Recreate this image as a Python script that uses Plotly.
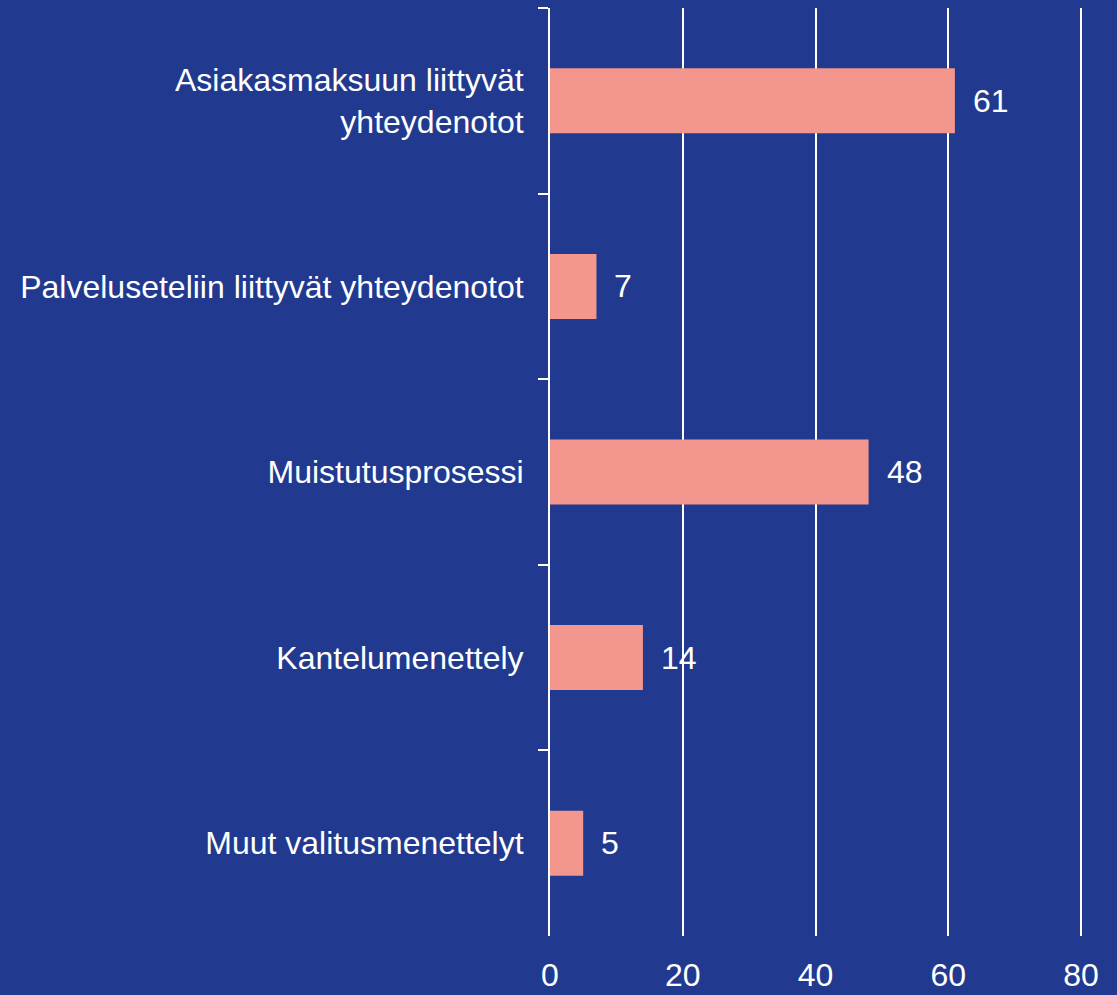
import plotly.graph_objects as go

categories = [
    "Asiakasmaksuun liittyvät<br>yhteydenotot",
    "Palveluseteliin liittyvät yhteydenotot",
    "Muistutusprosessi",
    "Kantelumenettely",
    "Muut valitusmenettelyt",
]
values = [61, 7, 48, 14, 5]
x_ticks = [0, 20, 40, 60, 80]

BG = "#213A8F"
BAR = "#F3968E"
FONT = "Liberation Sans, Arial, sans-serif"
FS = 32

fig = go.Figure()
fig.add_trace(go.Bar(
    x=values, y=categories, orientation="h",
    marker=dict(color=BAR, line=dict(width=0)),
    width=0.35,
    hoverinfo="skip",
))

for c, v in zip(categories, values):
    fig.add_annotation(x=v, y=c, text=str(v), showarrow=False,
                       xanchor="left", yanchor="middle", xshift=16,
                       font=dict(family=FONT, size=FS, color="white"))

fig.update_layout(
    width=1117, height=995,
    paper_bgcolor=BG, plot_bgcolor=BG,
    margin=dict(l=550, r=34, t=8, b=59, autoexpand=False),
    showlegend=False,
    font=dict(family=FONT, size=FS, color="white"),
)
fig.update_xaxes(
    range=[0, 80.3], tickvals=x_ticks, ticktext=[str(t) for t in x_ticks],
    showgrid=True, gridcolor="white", gridwidth=1.5,
    zeroline=False, showline=False, ticks="",
    tickfont=dict(family=FONT, size=FS, color="white"),
    ticklabelstandoff=17, automargin=False,
)
fig.update_yaxes(
    autorange="reversed", tickson="boundaries",
    showline=True, linecolor="white", linewidth=2,
    ticks="outside", ticklen=10, tickcolor="white", tickwidth=2,
    showgrid=False, automargin=False,
    tickfont=dict(family=FONT, size=FS, color="white"),
    ticklabelstandoff=18,
)

fig.write_html(
    "out.html",
    config={"displayModeBar": False},
    post_script="document.body.style.margin='0';document.body.style.background='%s';" % BG,
)
